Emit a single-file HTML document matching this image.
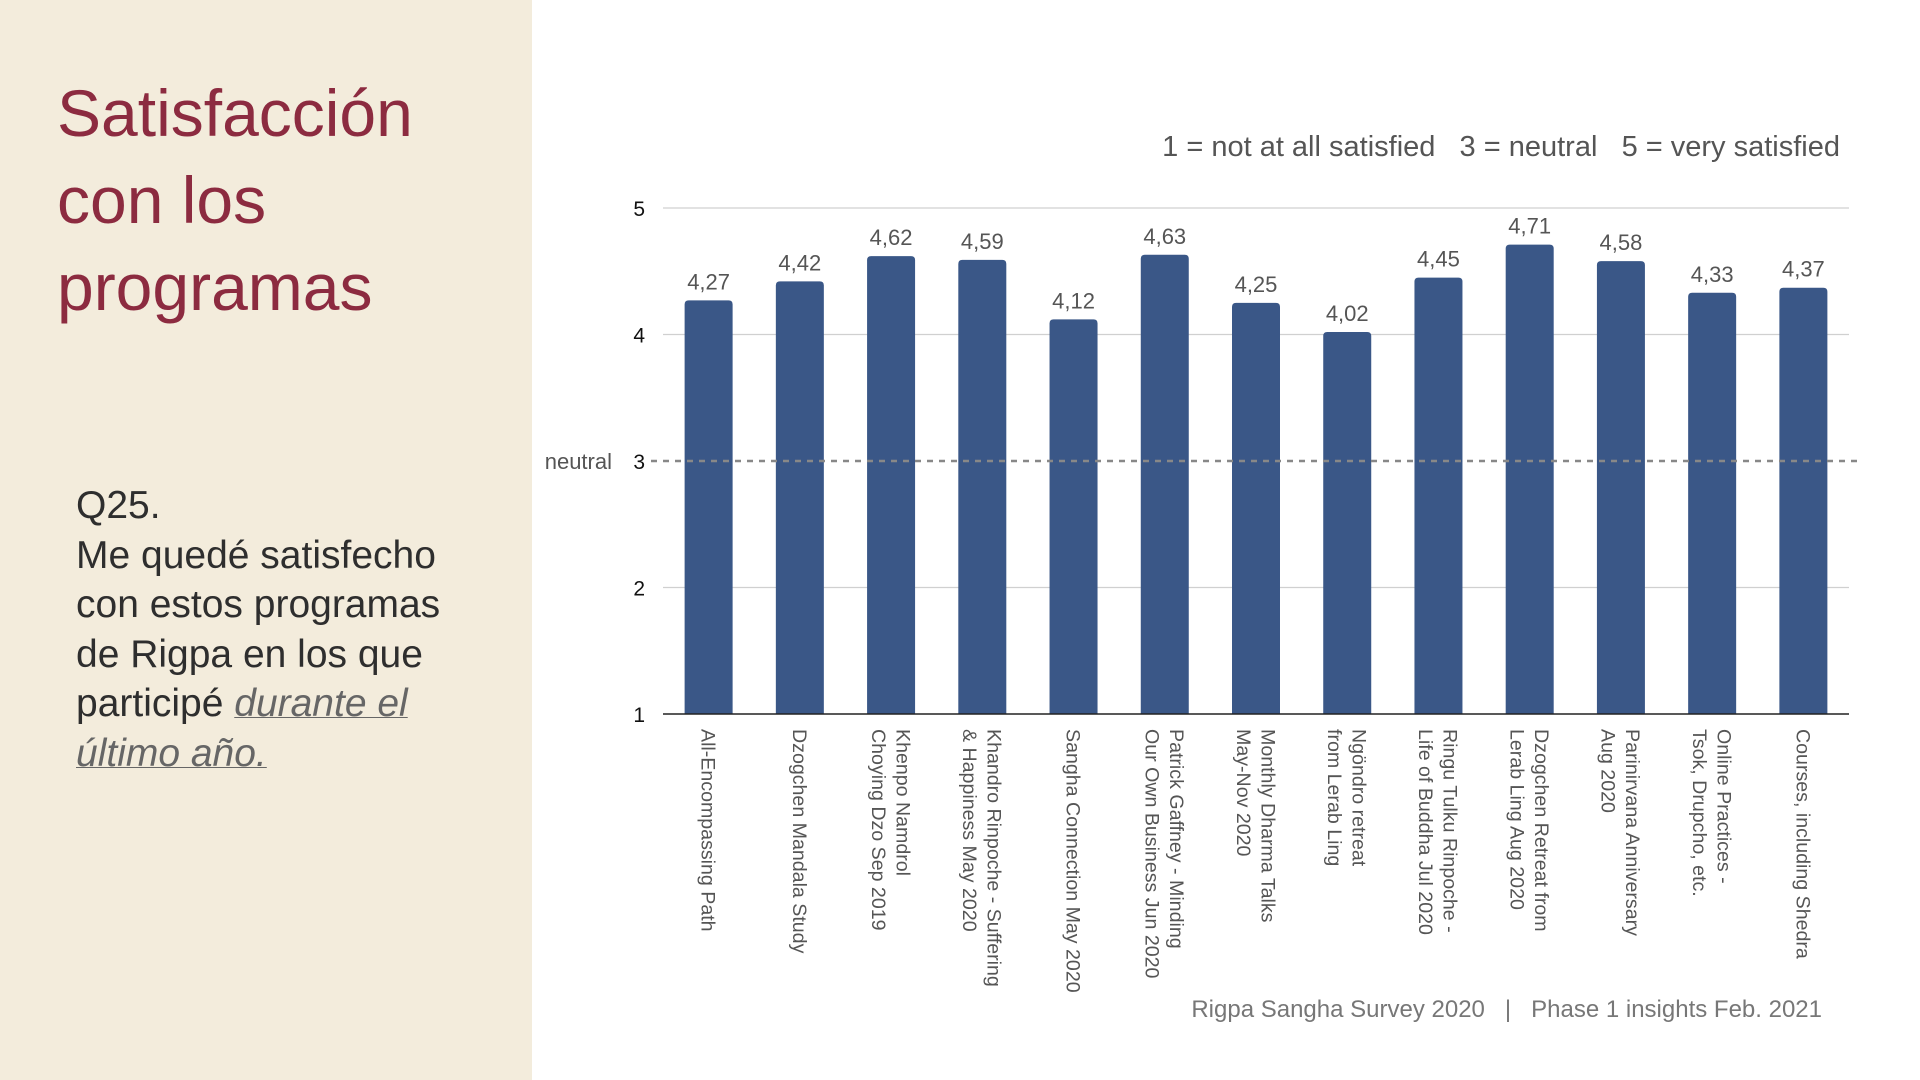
<!DOCTYPE html>
<html><head><meta charset="utf-8"><style>
body{margin:0;width:1920px;height:1080px;background:#fff;font-family:"Liberation Sans",sans-serif;overflow:hidden;position:relative}
#side{position:absolute;left:0;top:0;width:532px;height:1080px;background:#f3ecdc}
#title{position:absolute;left:57px;top:70px;font-size:66px;line-height:87px;color:#8c2b40;margin:0;font-weight:normal}
#q{position:absolute;left:76px;top:481px;font-size:39px;line-height:49.5px;color:#2e2e2e}
#q i{color:#666;text-decoration:underline;text-decoration-thickness:1px}
svg{position:absolute;left:0;top:0}
</style></head><body>
<div id="side"></div>
<h1 id="title">Satisfacción<br>con los<br>programas</h1>
<div id="q">Q25.<br>Me quedé satisfecho<br>con estos programas<br>de Rigpa en los que<br>participé <i>durante el<br>último año.</i></div>
<svg id="chart" width="1920" height="1080">
<text x="1840" y="156" text-anchor="end" font-size="29" fill="#555">1 = not at all satisfied &#160;&#160;3 = neutral &#160;&#160;5 = very satisfied</text>
<text x="1822" y="1017" text-anchor="end" font-size="24" fill="#777">Rigpa Sangha Survey 2020 &#160;&#160;|&#160;&#160; Phase 1 insights Feb. 2021</text>
</svg>
<script>
const categories=[["All-Encompassing Path"],["Dzogchen Mandala Study"],["Khenpo Namdrol","Choying Dzo  Sep 2019"],["Khandro Rinpoche - Suffering","& Happiness May 2020"],["Sangha Connection May 2020"],["Patrick Gaffney - Minding","Our Own Business Jun 2020"],["Monthly Dharma Talks","May-Nov 2020"],["Ngöndro retreat","from Lerab Ling"],["Ringu Tulku Rinpoche -","Life of Buddha Jul 2020"],["Dzogchen Retreat from","Lerab Ling Aug 2020"],["Parinirvana Anniversary","Aug 2020"],["Online Practices -","Tsok, Drupcho, etc."],["Courses, including Shedra"]];
const values=[4.27,4.42,4.62,4.59,4.12,4.63,4.25,4.02,4.45,4.71,4.58,4.33,4.37];
const yTicks=[1,2,3,4,5];
const neutralValue=3;
const svg=document.getElementById('chart');
const NS='http://www.w3.org/2000/svg';
const x0=663,x1=1849,yTop=208,yBot=714;
const y=v=>yBot-(v-1)/(5-1)*(yBot-yTop);
const step=(x1-x0)/categories.length;
const xc=i=>x0+step*(i+0.5);
function el(t,a){const e=document.createElementNS(NS,t);for(const k in a)e.setAttribute(k,a[k]);svg.appendChild(e);return e;}
yTicks.forEach(t=>{
 if(t!==1&&t!==neutralValue){const g=el('line',{x1:x0,x2:x1,y1:y(t),y2:y(t),stroke:'#d0d0d0','stroke-width':1.2});
 
 }
 const l=el('text',{x:645,y:y(t)+8,'text-anchor':'end','font-size':21,fill:'#111'});l.textContent=t;
 
 
});
values.forEach((v,i)=>{
 const w=48,cx=xc(i),top=y(v);
 const b=el('path',{d:`M${cx-w/2},${yBot}V${top+4}Q${cx-w/2},${top} ${cx-w/2+4},${top}H${cx+w/2-4}Q${cx+w/2},${top} ${cx+w/2},${top+4}V${yBot}Z`,fill:'#3a5787'});
 
 
 const t=el('text',{x:cx,y:top-11,'text-anchor':'middle','font-size':22,fill:'#555'});t.textContent=v.toFixed(2).replace('.',',');
 
 
 const lines=categories[i];
 const g=el('text',{transform:`translate(${cx},729) rotate(90)`,'font-size':19.6,fill:'#555'});
 
 
 lines.forEach((s,j)=>{const sp=document.createElementNS(NS,'tspan');sp.setAttribute('x',0);sp.setAttribute('y',(j-(lines.length-1)/2)*24.5+7);sp.textContent=s;g.appendChild(sp);});
});
const ax=el('line',{x1:x0,x2:x1,y1:yBot,y2:yBot,stroke:'#222','stroke-width':1.5});


const nl=el('line',{x1:651,x2:1862,y1:y(neutralValue),y2:y(neutralValue),stroke:'#888','stroke-width':2.5,'stroke-dasharray':'6 6'});


const nt=el('text',{x:612,y:y(neutralValue)+8,'text-anchor':'end','font-size':22,fill:'#555'});nt.textContent='neutral';


</script>
</body></html>
